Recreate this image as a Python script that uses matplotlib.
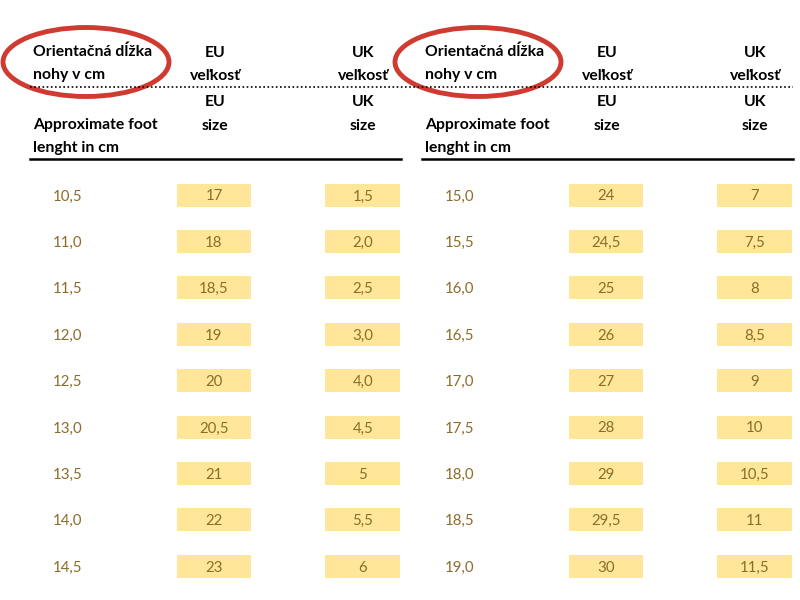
import matplotlib.pyplot as plt
from matplotlib.patches import Ellipse, Rectangle

# left table
foot_left = ["10,5", "11,0", "11,5", "12,0", "12,5", "13,0", "13,5", "14,0", "14,5"]
eu_left = ["17", "18", "18,5", "19", "20", "20,5", "21", "22", "23"]
uk_left = ["1,5", "2,0", "2,5", "3,0", "4,0", "4,5", "5", "5,5", "6"]

# right table
foot_right = ["15,0", "15,5", "16,0", "16,5", "17,0", "17,5", "18,0", "18,5", "19,0"]
eu_right = ["24", "24,5", "25", "26", "27", "28", "29", "29,5", "30"]
uk_right = ["7", "7,5", "8", "8,5", "9", "10", "10,5", "11", "11,5"]

plt.rcParams['font.family'] = ['Lato', 'DejaVu Sans']

fig = plt.figure(figsize=(8, 6), dpi=100)
ax = fig.add_axes([0, 0, 1, 1])
ax.set_xlim(0, 800)
ax.set_ylim(600, 0)
ax.axis('off')

txt_col = '#8c6c2a'
box_col = '#ffe699'
row_y0 = 195
row_step = 46.4
hs = 11.3   # header font size
ns = 10.8   # number font size


def draw_table(x0, foot, eu, uk):
    # header text
    ax.text(x0 + 3, 52, "Orientačná dĺžka", fontsize=hs, fontweight='bold', va='center')
    ax.text(x0 + 3, 75, "nohy v cm", fontsize=hs, fontweight='bold', va='center')
    ax.text(x0 + 185, 53, "EU", fontsize=hs, fontweight='bold', va='center', ha='center')
    ax.text(x0 + 185, 76, "veľkosť", fontsize=hs, fontweight='bold', va='center', ha='center')
    ax.text(x0 + 333, 53, "UK", fontsize=hs, fontweight='bold', va='center', ha='center')
    ax.text(x0 + 333, 76, "veľkosť", fontsize=hs, fontweight='bold', va='center', ha='center')
    ax.text(x0 + 185, 102, "EU", fontsize=hs, fontweight='bold', va='center', ha='center')
    ax.text(x0 + 185, 126, "size", fontsize=hs, fontweight='bold', va='center', ha='center')
    ax.text(x0 + 333, 102, "UK", fontsize=hs, fontweight='bold', va='center', ha='center')
    ax.text(x0 + 333, 126, "size", fontsize=hs, fontweight='bold', va='center', ha='center')
    ax.text(x0 + 3, 125, "Approximate foot", fontsize=hs, fontweight='bold', va='center')
    ax.text(x0 + 3, 148, "lenght in cm", fontsize=hs, fontweight='bold', va='center')
    ax.plot([x0, x0 + 371], [159, 159], color='black', lw=1.8)
    # red circle
    ax.add_patch(Ellipse((x0 + 56, 62), 166, 69, fill=False, ec='#cf3b30', lw=3.5))
    # rows
    for i in range(len(foot)):
        y = row_y0 + i * row_step
        ax.text(x0 + 23, y + 1.5, foot[i], fontsize=ns, color=txt_col, va='center')
        ax.add_patch(Rectangle((x0 + 147, y - 11.5), 74, 23, color=box_col, lw=0))
        ax.text(x0 + 184, y + 1.5, eu[i], fontsize=ns, color=txt_col, va='center', ha='center')
        ax.add_patch(Rectangle((x0 + 295, y - 11.5), 75, 23, color=box_col, lw=0))
        ax.text(x0 + 333, y + 1.5, uk[i], fontsize=ns, color=txt_col, va='center', ha='center')


draw_table(30, foot_left, eu_left, uk_left)
draw_table(422, foot_right, eu_right, uk_right)

# dotted separator across both tables
ax.plot([30, 793], [87, 87], color='black', lw=1.2, ls=(0, (1, 1.5)))

fig.savefig('out.png', dpi=100)
